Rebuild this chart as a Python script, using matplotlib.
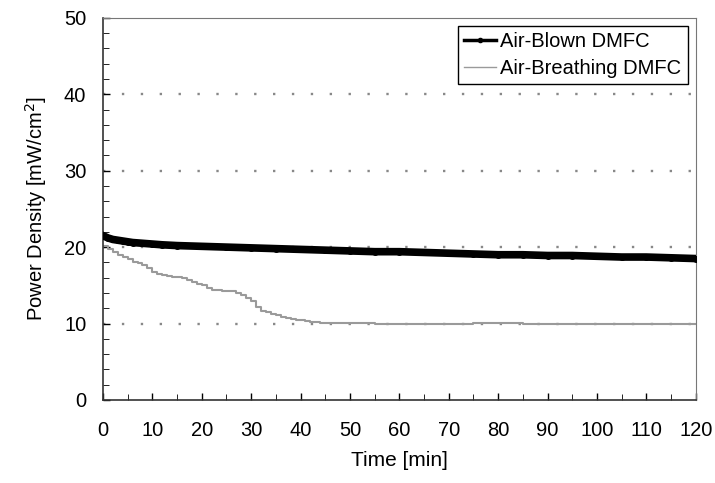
import matplotlib
matplotlib.use('Agg')
import matplotlib.pyplot as plt
from matplotlib.ticker import MultipleLocator
from matplotlib.lines import Line2D

plt.rcParams['font.family'] = ['Liberation Sans', 'DejaVu Sans']

# Air-Blown DMFC
t_blown = [0, 1, 2, 3, 4, 5, 6, 8, 10, 12, 15, 20, 25, 30, 35, 40, 45, 50, 55, 60,
           65, 70, 75, 80, 85, 90, 95, 100, 105, 110, 115, 120]
p_blown = [21.5, 21.2, 21.0, 20.9, 20.8, 20.7, 20.6, 20.5, 20.4, 20.3, 20.2, 20.1,
           20.0, 19.9, 19.8, 19.7, 19.6, 19.5, 19.4, 19.4, 19.3, 19.2, 19.1, 19.0,
           19.0, 18.9, 18.9, 18.8, 18.7, 18.7, 18.6, 18.5]

# Air-Breathing DMFC
t_breath = list(range(0, 46)) + [50, 55, 60, 65, 70, 75, 80, 85, 90, 95, 100, 105, 110, 115, 120]
p_breath = [20.1, 19.7, 19.3, 19.0, 18.7, 18.4, 18.1, 17.9, 17.6, 17.2,
            16.8, 16.5, 16.3, 16.2, 16.1, 16.1, 16.0, 15.7, 15.4, 15.2,
            15.0, 14.6, 14.4, 14.4, 14.3, 14.3, 14.2, 14.0, 13.7, 13.4,
            13.0, 12.2, 11.7, 11.5, 11.3, 11.1, 10.9, 10.7, 10.6, 10.5,
            10.4, 10.3, 10.2, 10.15, 10.1, 10.1,
            10.05, 10.0, 10.0, 10.0, 10.0, 10.05, 10.05, 10.0, 10.0, 10.0,
            9.95, 9.95, 9.95, 9.9, 9.9]

fig = plt.figure(figsize=(7.15, 4.83), dpi=100)
ax = fig.add_axes([0.144, 0.172, 0.829, 0.791])

ax.plot(t_breath, p_breath, color='#9a9a9a', lw=1.5, drawstyle='steps-post', zorder=2)
ax.plot(t_blown, p_blown, color='black', lw=5.5, marker='o', ms=4, zorder=3)

for y in [10, 20, 30, 40]:
    ax.axhline(y, color='#888888', lw=1.7, linestyle=(0, (1, 7)), zorder=1)

ax.set_xlim(0, 120)
ax.set_ylim(0, 50)
ax.xaxis.set_major_locator(MultipleLocator(10))
ax.xaxis.set_minor_locator(MultipleLocator(5))
ax.yaxis.set_major_locator(MultipleLocator(10))
ax.yaxis.set_minor_locator(MultipleLocator(2))
ax.tick_params(which='both', direction='in', labelsize=14.5, colors='black')
ax.tick_params(axis='x', which='major', length=5, width=1, pad=15)
ax.tick_params(axis='y', which='major', length=5, width=1, pad=12)
ax.tick_params(which='minor', length=4)
for s in ['top', 'right']:
    ax.spines[s].set_color('#777777')
for s in ['left', 'bottom']:
    ax.spines[s].set_linewidth(1.2)
    ax.spines[s].set_color('#333333')

ax.set_xlabel('Time [min]', fontsize=15, labelpad=8)
ax.set_ylabel('Power Density [mW/cm$^2$]', fontsize=14.5, labelpad=11)

handles = [Line2D([], [], color='black', lw=2.5, marker='o', ms=3),
           Line2D([], [], color='#9a9a9a', lw=1)]
leg = ax.legend(handles, ['Air-Blown DMFC', 'Air-Breathing DMFC'], loc='upper right',
                fontsize=14.5, fancybox=False, edgecolor='black', framealpha=1,
                handlelength=1.6, handletextpad=0.2, borderaxespad=0.4,
                borderpad=0.3, labelspacing=0.4)
leg.get_frame().set_linewidth(1)

fig.savefig('out.png', dpi=100)
